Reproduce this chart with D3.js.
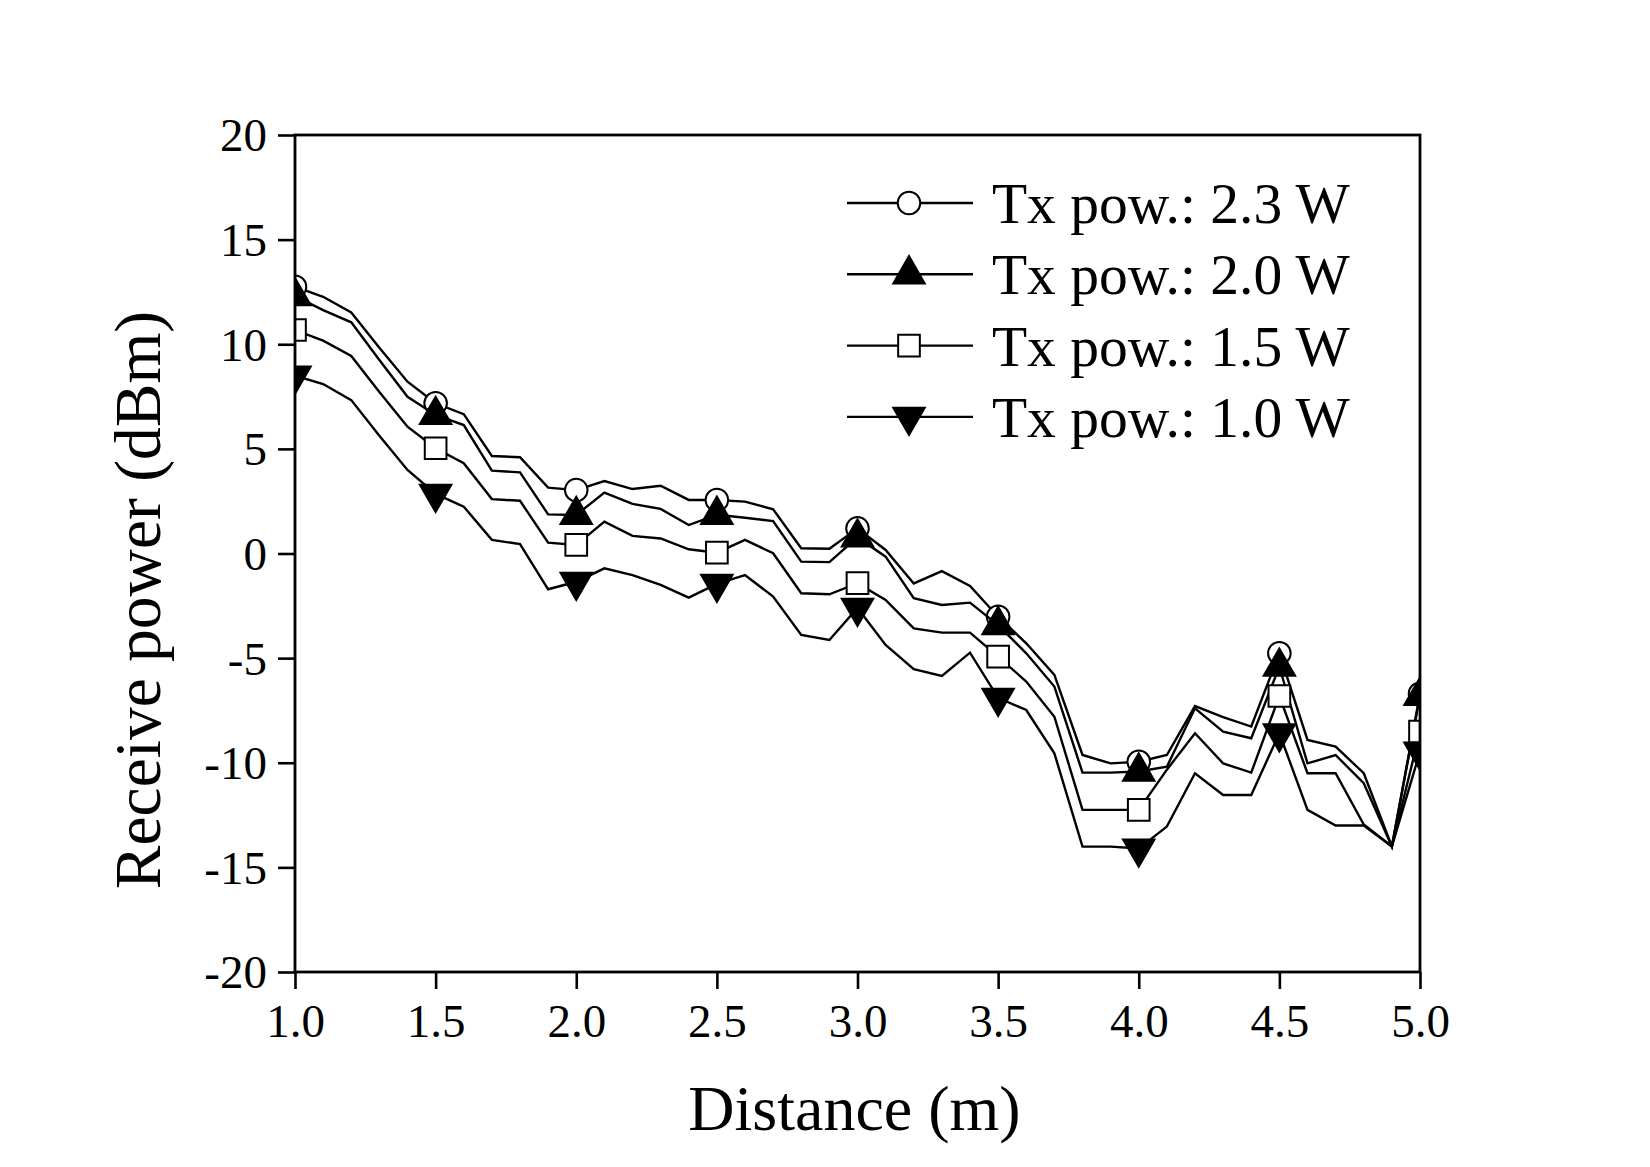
<!DOCTYPE html>
<html>
<head>
<meta charset="utf-8">
<script src="https://cdn.jsdelivr.net/npm/d3@7"></script>
<style>
	body { margin: 0; background: #fff; }
	text { font-family: "Liberation Serif", "Times New Roman", serif; fill: #000; }
</style>
</head>
<body>
<main></main>
<script>
const distance = [1.0, 1.1, 1.2, 1.3, 1.4, 1.5, 1.6, 1.7, 1.8, 1.9, 2.0, 2.1, 2.2, 2.3, 2.4, 2.5, 2.6, 2.7, 2.8, 2.9, 3.0,
	3.1, 3.2, 3.3, 3.4, 3.5, 3.6, 3.7, 3.8, 3.9, 4.0, 4.1, 4.2, 4.3, 4.4, 4.5, 4.6, 4.7, 4.8, 4.9, 5.0];
const pow23 = [12.75, 12.27, 11.52, 9.83, 8.21, 7.18, 6.66, 4.66, 4.60, 3.15, 3.03, 3.46, 3.08, 3.24, 2.56, 2.56, 2.48, 2.11, 0.25, 0.23, 1.2,
	0.17, -1.43, -0.84, -1.55, -3.02, -4.29, -5.8, -9.63, -10.03, -9.95, -9.63, -7.29, -7.82, -8.27, -4.77, -8.91, -9.23, -10.5, -14.0, -6.7];
const pow20 = [12.3, 11.63, 11.05, 9.25, 7.49, 6.62, 6.14, 3.96, 3.88, 1.87, 1.84, 2.91, 2.37, 2.13, 1.36, 1.85, 1.71, 1.55, -0.39, -0.41, 0.77,
	-0.15, -2.14, -2.46, -2.35, -3.42, -4.77, -6.36, -10.47, -10.47, -10.42, -10.19, -7.4, -8.51, -8.83, -5.41, -10.03, -9.63, -10.98, -14.0, -6.8];
const pow15 = [10.68, 10.17, 9.44, 7.72, 6.06, 5.03, 4.31, 2.6, 2.52, 0.52, 0.41, 1.52, 0.84, 0.72, 0.2, 0.04, 0.65, 0.01, -1.9, -1.95, -1.42,
	-2.22, -3.58, -3.78, -3.78, -4.93, -6.12, -7.8, -12.25, -12.25, -12.25, -10.33, -8.59, -10.03, -10.47, -6.81, -10.5, -10.5, -12.95, -14.0, -8.51];
const pow10 = [8.5, 8.1, 7.33, 5.63, 3.99, 2.85, 2.24, 0.65, 0.45, -1.71, -1.35, -0.71, -1.03, -1.5, -2.11, -1.45, -1.03, -2.06, -3.89, -4.13, -2.6,
	-4.37, -5.53, -5.85, -4.74, -6.9, -7.48, -9.55, -14.01, -14.01, -14.1, -13.05, -10.5, -11.54, -11.54, -8.59, -12.25, -13.0, -13.0, -14.0, -9.47];

const seriesNames = ["Tx pow.: 2.3 W", "Tx pow.: 2.0 W", "Tx pow.: 1.5 W", "Tx pow.: 1.0 W"];
const xTicks = [1.0, 1.5, 2.0, 2.5, 3.0, 3.5, 4.0, 4.5, 5.0];
const yTicks = [-20, -15, -10, -5, 0, 5, 10, 15, 20];

function drawChart() {

	let dimensions = {
		width: 1650,
		height: 1167,
		margins: {
			top: 135,
			right: 230,
			bottom: 195,
			left: 295,
		},
	};
	dimensions.boundedWidth = dimensions.width - dimensions.margins.left - dimensions.margins.right;
	dimensions.boundedHeight = dimensions.height - dimensions.margins.top - dimensions.margins.bottom;

	const entireChart = d3.select("main")
		.append("svg")
		.attr("width", dimensions.width)
		.attr("height", dimensions.height);

	const graph = entireChart.append("g")
		.attr("transform", `translate(${dimensions.margins.left}, ${dimensions.margins.top})`);

	const xScale = d3.scaleLinear()
		.domain([1, 5])
		.range([0, dimensions.boundedWidth]);

	const yScale = d3.scaleLinear()
		.domain([-20, 20])
		.range([dimensions.boundedHeight, 0]);

	graph.append("clipPath")
		.attr("id", "plot-clip")
		.append("rect")
		.attr("width", dimensions.boundedWidth)
		.attr("height", dimensions.boundedHeight);

	// markers: circle open, triangle up filled, square open, triangle down filled
	const markerStyles = [
		{ type: d3.symbolCircle, size: 400, fill: "#fff", rotate: 0 },
		{ type: d3.symbolTriangle, size: 430, fill: "#000", rotate: 0 },
		{ type: d3.symbolSquare, size: 470, fill: "#fff", rotate: 0 },
		{ type: d3.symbolTriangle, size: 430, fill: "#000", rotate: 180 },
	];
	const allSeries = [pow23, pow20, pow15, pow10];

	const lineGenerator = d3.line()
		.x((d, i) => xScale(distance[i]))
		.y(d => yScale(d));

	const plot = graph.append("g")
		.attr("clip-path", "url(#plot-clip)");

	allSeries.forEach((values, s) => {
		plot.append("path")
			.datum(values)
			.attr("d", lineGenerator)
			.attr("fill", "none")
			.attr("stroke", "#000")
			.attr("stroke-width", 2.4)
			.attr("stroke-linejoin", "miter");

		const style = markerStyles[s];
		plot.selectAll(`.marker-${s}`)
			.data(values.map((v, i) => [distance[i], v]).filter((d, i) => i % 5 === 0))
			.enter()
			.append("path")
			.attr("class", `marker-${s}`)
			.attr("d", d3.symbol().type(style.type).size(style.size))
			.attr("transform", d => `translate(${xScale(d[0])}, ${yScale(d[1])}) rotate(${style.rotate})`)
			.attr("fill", style.fill)
			.attr("stroke", "#000")
			.attr("stroke-width", 2);
	});

	// frame
	graph.append("rect")
		.attr("width", dimensions.boundedWidth)
		.attr("height", dimensions.boundedHeight)
		.attr("fill", "none")
		.attr("stroke", "#000")
		.attr("stroke-width", 2.8);

	const xAxisGenerator = d3.axisBottom()
		.scale(xScale)
		.tickValues(xTicks)
		.tickSize(17)
		.tickFormat(d3.format(".1f"));

	const xAxis = graph.append("g")
		.attr("transform", `translate(0, ${dimensions.boundedHeight})`)
		.call(xAxisGenerator);
	xAxis.select(".domain").remove();
	xAxis.selectAll(".tick line").attr("stroke-width", 2.6);
	xAxis.selectAll(".tick text")
		.attr("y", 65)
		.attr("dy", 0)
		.style("font-size", "47px")
		.style("font-family", "'Liberation Serif', 'Times New Roman', serif");

	const yAxisGenerator = d3.axisLeft()
		.scale(yScale)
		.tickValues(yTicks)
		.tickSize(17)
		.tickFormat(d => String(d));

	const yAxis = graph.append("g")
		.call(yAxisGenerator);
	yAxis.select(".domain").remove();
	yAxis.selectAll(".tick line").attr("stroke-width", 2.6);
	yAxis.selectAll(".tick text")
		.attr("x", -28)
		.attr("dy", "0.34em")
		.style("font-size", "47px")
		.style("font-family", "'Liberation Serif', 'Times New Roman', serif");

	graph.append("text")
		.attr("x", dimensions.boundedWidth / 2 - 3)
		.attr("y", dimensions.boundedHeight + 158)
		.style("text-anchor", "middle")
		.style("font-size", "64px")
		.text("Distance (m)");

	graph.append("text")
		.attr("transform", `translate(${160 - dimensions.margins.left}, ${600 - dimensions.margins.top}) rotate(-90)`)
		.style("text-anchor", "middle")
		.style("font-size", "65.5px")
		.text("Receive power (dBm)");

	// legend
	const legend = entireChart.append("g")
		.attr("transform", "translate(847, 203)");
	const legendItems = legend.selectAll("g")
		.data(seriesNames)
		.enter()
		.append("g")
		.attr("transform", (d, i) => `translate(0, ${i * 71.3})`);
	legendItems.append("line")
		.attr("x1", 0)
		.attr("x2", 126)
		.attr("stroke", "#000")
		.attr("stroke-width", 2.4);
	legendItems.append("path")
		.attr("d", (d, i) => d3.symbol().type(markerStyles[i].type).size(markerStyles[i].size)())
		.attr("transform", (d, i) => `translate(62, 0) rotate(${markerStyles[i].rotate})`)
		.attr("fill", (d, i) => markerStyles[i].fill)
		.attr("stroke", "#000")
		.attr("stroke-width", 2);
	legendItems.append("text")
		.attr("x", 145)
		.attr("y", 20)
		.style("font-size", "57.5px")
		.text(d => d);
}
drawChart();
</script>
</body>
</html>
